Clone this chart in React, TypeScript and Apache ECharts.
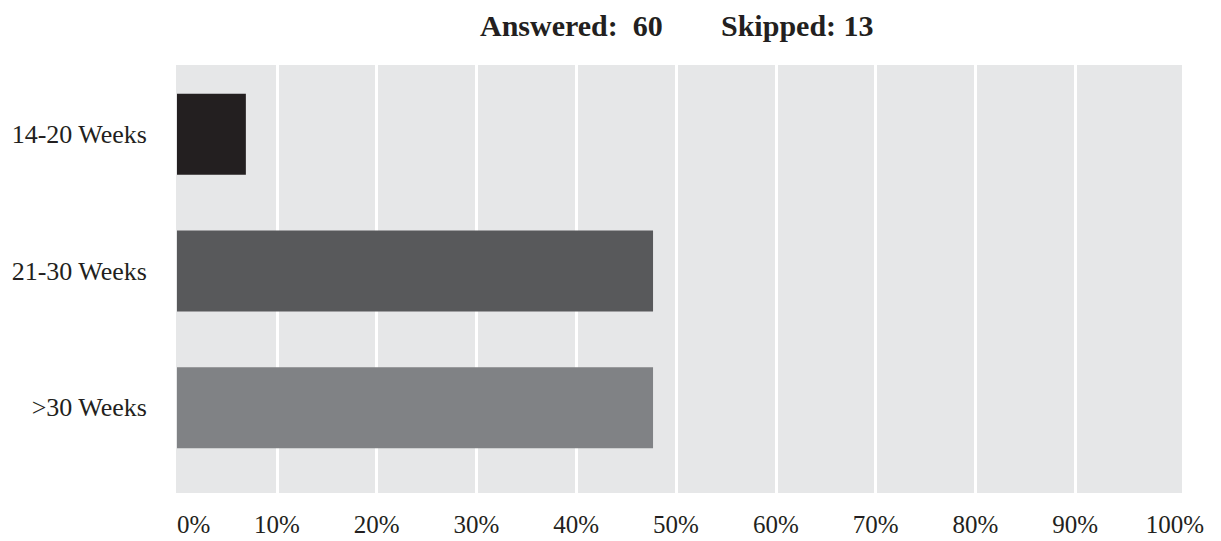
import React, { useEffect, useRef } from "react";
import * as echarts from "echarts";

const categories = ["14-20 Weeks", "21-30 Weeks", ">30 Weeks"];
const values = [6.9, 47.7, 47.7];
const barColors = ["#231f20", "#58595b", "#808285"];
const xTicks = { min: 0, max: 100, interval: 10 };
const answered = 60;
const skipped = 13;

const FONT = '"Liberation Serif", "Times New Roman", serif';
const TEXT = "#231f20";
const PANEL = "#e6e7e8";

export default function App() {
  const ref = useRef<HTMLDivElement>(null);

  useEffect(() => {
    if (!ref.current) return;
    const chart = echarts.init(ref.current, null, { renderer: "svg" });

    const left = 177;
    const right = 1221 - 1175;

    chart.setOption({
      animation: false,
      backgroundColor: "#ffffff",
      graphic: [
        {
          type: "rect",
          z: -10,
          silent: true,
          shape: { x: 176, y: 65, width: 1006, height: 428 },
          style: { fill: PANEL },
        },
        {
          type: "text",
          x: 480,
          y: 25,
          style: {
            text: `Answered:  ${answered}`,
            font: `bold 30px ${FONT}`,
            fill: TEXT,
            verticalAlign: "middle",
          },
        },
        {
          type: "text",
          x: 721,
          y: 25,
          style: {
            text: `Skipped: ${skipped}`,
            font: `bold 30px ${FONT}`,
            fill: TEXT,
            verticalAlign: "middle",
          },
        },
      ],
      grid: [
        // full panel: vertical grid lines and percentage labels
        { left, right, top: 65, height: 428, containLabel: false },
        // bars
        { left, right, top: 66, height: 410, containLabel: false },
      ],
      xAxis: [
        {
          gridIndex: 0,
          type: "value",
          ...xTicks,
          axisLine: { show: false },
          axisTick: { show: false },
          axisLabel: {
            formatter: "{value}%",
            color: TEXT,
            fontFamily: FONT,
            fontSize: 25,
            margin: 19,
            alignMinLabel: "left",
          },
          splitLine: {
            show: true,
            showMinLine: false,
            showMaxLine: false,
            lineStyle: { color: "#ffffff", width: 3 },
          },
        },
        {
          gridIndex: 1,
          type: "value",
          ...xTicks,
          show: false,
          splitLine: { show: false },
        },
      ],
      yAxis: [
        {
          gridIndex: 0,
          type: "category",
          data: [],
          show: false,
        },
        {
          gridIndex: 1,
          type: "category",
          data: categories,
          inverse: true,
          axisLine: { show: false },
          axisTick: { show: false },
          splitLine: { show: false },
          axisLabel: {
            color: TEXT,
            fontFamily: FONT,
            fontSize: 26,
            margin: 30,
          },
        },
      ],
      series: [
        {
          type: "bar",
          xAxisIndex: 1,
          yAxisIndex: 1,
          barWidth: 81,
          data: values.map((v, i) => ({
            value: v,
            itemStyle: { color: barColors[i] },
          })),
        },
      ],
    });

    return () => chart.dispose();
  }, []);

  return <div ref={ref} style={{ width: 1221, height: 541, margin: -8 }} />;
}
